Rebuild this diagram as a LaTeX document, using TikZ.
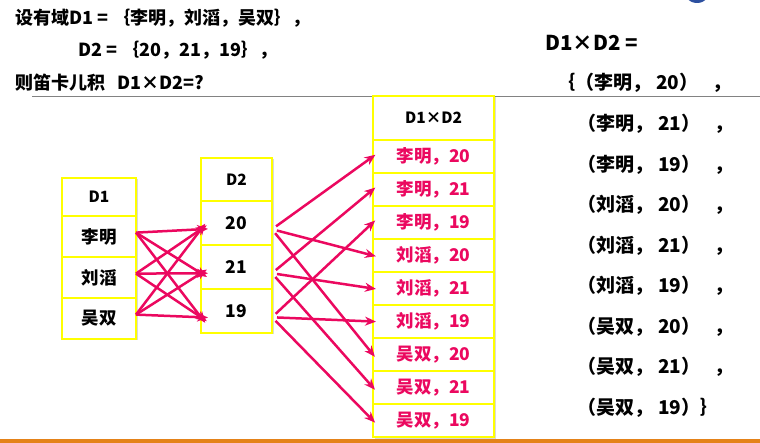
\documentclass[tikz,border=0pt]{standalone}
\usepackage{fontspec}
\setmainfont{Noto Sans CJK SC}
\usepackage{tikz}
\usetikzlibrary{arrows.meta,positioning,shadows}
\definecolor{cellyellow}{RGB}{255,255,0}
\definecolor{pairred}{RGB}{235,8,95}
\definecolor{barorange}{RGB}{228,130,25}
\definecolor{rulegray}{RGB}{130,130,130}
\definecolor{logoblue}{RGB}{45,80,160}
\newcommand{\pairitem}[2]{（#1，\hspace{5pt}#2）}

\begin{document}
\begin{tikzpicture}[
    x=1pt, y=-1pt,
    node distance=0pt,
    cell/.style={rectangle, draw=cellyellow, fill=white, line width=2.5pt, outer sep=0pt, inner sep=0pt, align=center, drop shadow={opacity=0.3, shadow xshift=1.5pt, shadow yshift=-1.5pt}, font=\bfseries\fontsize{17.5}{20}\selectfont},
    head/.style={cell, font=\bfseries\fontsize{15.5}{18}\selectfont},
    d1cell/.style={cell, minimum width=74pt, minimum height=41pt},
    d2cell/.style={cell, minimum width=71pt, minimum height=44pt},
    paircell/.style={cell, minimum width=121pt, minimum height=33pt, text=pairred},
    arrow/.style={-{Stealth[length=11pt, width=9pt]}, line width=2.5pt, draw=pairred},
    txt/.style={anchor=west, inner sep=0pt, font=\bfseries\fontsize{18}{22}\selectfont},
    settxt/.style={anchor=west, inner sep=0pt, font=\bfseries\fontsize{19}{22}\selectfont}
]
    \useasboundingbox (0,0) rectangle (760,443);
    \fill[logoblue] (697,-11) circle (14);
    \draw[rulegray, line width=1pt] (32,97) -- (760,97);
    \fill[barorange] (0,439) rectangle (760,443);

    % question
    \node[txt] (q1) at (15,18) {设有域D1 = ｛李明，刘滔，吴双｝，};
    \node[txt] (q2) at (78,50) {D2 = ｛20，21，19｝，};
    \node[txt] (q3) at (15,83) {则笛卡儿积\ \ \ D1×D2=?};

    % D1
    \node[head, minimum width=74pt, minimum height=38pt] (d1) at (99,197) {D1};
    \node[d1cell, below=of d1] (d1a) {李明};
    \node[d1cell, below=of d1a] (d1b) {刘滔};
    \node[d1cell, below=of d1b] (d1c) {吴双};

    % D2
    \node[head, minimum width=71pt, minimum height=43pt] (d2) at (236.5,179.5) {D2};
    \node[d2cell, below=of d2] (d2a) {20};
    \node[d2cell, below=of d2a] (d2b) {21};
    \node[d2cell, below=of d2b] (d2c) {19};

    % D1 x D2
    \node[head, minimum width=121pt, minimum height=44pt] (pr) at (433.5,118) {D1×D2};
    \node[paircell, below=of pr] (p1) {李明，20};
    \node[paircell, below=of p1] (p2) {李明，21};
    \node[paircell, below=of p2] (p3) {李明，19};
    \node[paircell, below=of p3] (p4) {刘滔，20};
    \node[paircell, below=of p4] (p5) {刘滔，21};
    \node[paircell, below=of p5] (p6) {刘滔，19};
    \node[paircell, below=of p6] (p7) {吴双，20};
    \node[paircell, below=of p7] (p8) {吴双，21};
    \node[paircell, below=of p8] (p9) {吴双，19};

    % D1 -> D2
    \foreach \s in {d1a,d1b,d1c}
        \foreach \t in {d2a,d2b,d2c}
            \draw[arrow, shorten >=-7pt] (\s.6) -- (\t.190);

    % D2 -> D1 x D2
    \draw[arrow, shorten <=5pt, shorten >=-3pt] (d2a.-10) -- (p1.west);
    \draw[arrow, shorten <=5pt, shorten >=-3pt] (d2a.-10) -- (p4.west);
    \draw[arrow, shorten <=5pt, shorten >=-3pt] (d2a.-10) -- (p7.west);
    \draw[arrow, shorten <=5pt, shorten >=-3pt] (d2b.-10) -- (p2.west);
    \draw[arrow, shorten <=5pt, shorten >=-3pt] (d2b.-10) -- (p5.west);
    \draw[arrow, shorten <=5pt, shorten >=-3pt] (d2b.-10) -- (p8.west);
    \draw[arrow, shorten <=5pt, shorten >=-3pt] (d2c.-10) -- (p3.west);
    \draw[arrow, shorten <=5pt, shorten >=-3pt] (d2c.-10) -- (p6.west);
    \draw[arrow, shorten <=5pt, shorten >=-3pt] (d2c.-10) -- (p9.west);

    % result set
    \node[settxt, font=\bfseries\fontsize{20.5}{24}\selectfont] (r0) at (545,43) {D1×D2 =};
    \node[settxt] (r1) at (556,83) {｛\pairitem{李明}{20}\hspace{14pt}，};
    \node[settxt] (r2) at (577,124) {\pairitem{李明}{21}\hspace{14pt}，};
    \node[settxt] (r3) at (577,165) {\pairitem{李明}{19}\hspace{14pt}，};
    \node[settxt] (r4) at (577,205) {\pairitem{刘滔}{20}\hspace{14pt}，};
    \node[settxt] (r5) at (577,246) {\pairitem{刘滔}{21}\hspace{14pt}，};
    \node[settxt] (r6) at (577,286) {\pairitem{刘滔}{19}\hspace{14pt}，};
    \node[settxt] (r7) at (577,327) {\pairitem{吴双}{20}\hspace{14pt}，};
    \node[settxt] (r8) at (577,367) {\pairitem{吴双}{21}\hspace{14pt}，};
    \node[settxt] (r9) at (577,408) {\pairitem{吴双}{19}｝};
\end{tikzpicture}
\end{document}
